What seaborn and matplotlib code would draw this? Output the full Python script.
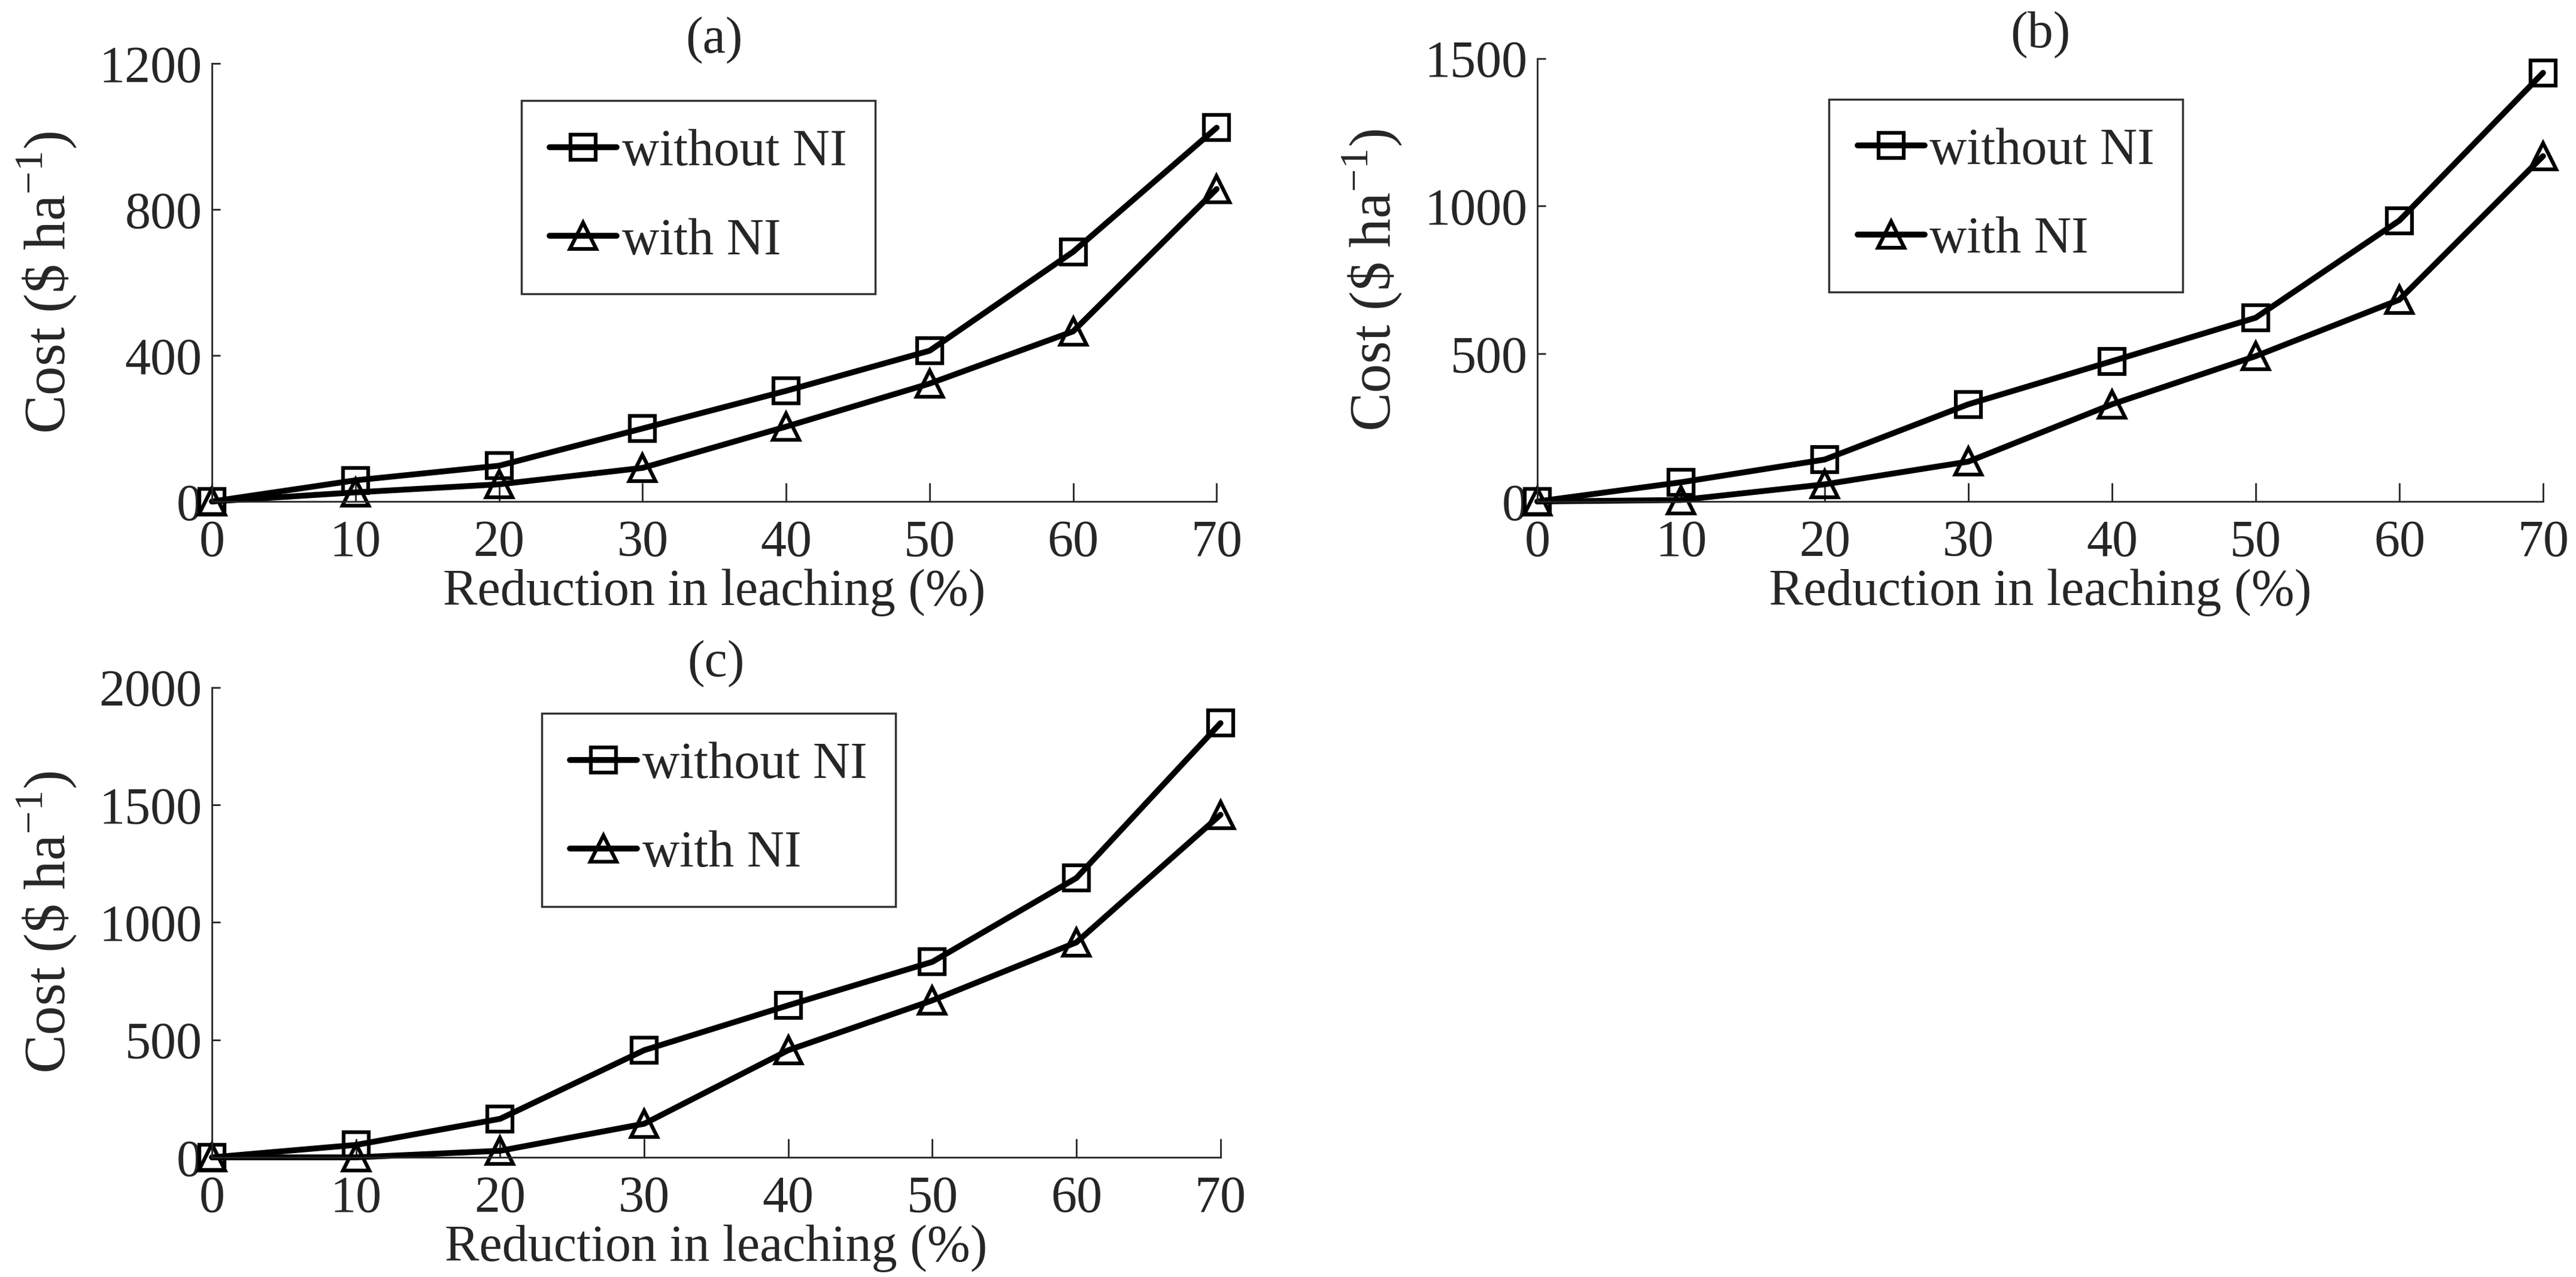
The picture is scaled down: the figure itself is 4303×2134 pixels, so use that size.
import numpy as np
import pandas as pd
import matplotlib
matplotlib.use('Agg')
from matplotlib import pyplot as plt
import seaborn as sns

sns.set_style('ticks')
plt.rcParams['font.family'] = ['Liberation Serif', 'DejaVu Serif']
plt.rcParams['mathtext.fontset'] = 'custom'
plt.rcParams['mathtext.rm'] = 'Liberation Serif'

reduction = [0, 10, 20, 30, 40, 50, 60, 70]

# panel (a)
a_without = [0, 58, 98, 200, 303, 413, 684, 1024]
a_with = [0, 25, 47, 92, 205, 323, 466, 856]
# panel (b)
b_without = [0, 65, 142, 329, 475, 622, 951, 1451]
b_with = [0, 5, 58, 135, 329, 492, 683, 1169]
# panel (c)
c_without = [0, 53, 164, 456, 647, 832, 1189, 1848]
c_with = [0, 0, 28, 143, 456, 668, 915, 1458]

panel_titles = ['(a)', '(b)', '(c)']
y_ticks = [[0, 400, 800, 1200], [0, 500, 1000, 1500], [0, 500, 1000, 1500, 2000]]
series = [(a_without, a_with), (b_without, b_with), (c_without, c_with)]

fig = plt.figure(figsize=(43.03, 21.34), dpi=100)
boxes = [[0.0823, 0.6073, 0.390, 0.343],
         [0.5968, 0.6073, 0.3904, 0.347],
         [0.0823, 0.0937, 0.3915, 0.368]]
leg_pos = [(0.308, 0.915), (0.290, 0.908), (0.327, 0.945)]

FS = 62
for i in range(3):
    ax = fig.add_axes(boxes[i])
    wo, wi = series[i]
    sns.lineplot(x=reduction, y=wo, ax=ax, color='black', lw=7, marker='s', ms=30,
                 mfc='none', mec='black', mew=4.5, label='without NI', clip_on=False)
    sns.lineplot(x=reduction, y=wi, ax=ax, color='black', lw=7, marker='^', ms=32,
                 mfc='none', mec='black', mew=4.5, label='with NI', clip_on=False)
    ax.set_xlim(0, 70)
    ax.set_ylim(0, y_ticks[i][-1])
    ax.set_xticks(reduction)
    ax.set_yticks(y_ticks[i])
    ax.tick_params(axis='x', direction='in', length=22, width=2, labelsize=FS, pad=22)
    ax.tick_params(axis='y', direction='in', length=10, width=2, labelsize=FS, pad=12)
    for s in ['top', 'right']:
        ax.spines[s].set_visible(False)
    for s in ['left', 'bottom']:
        ax.spines[s].set_linewidth(2)
    ax.set_xlabel('Reduction in leaching (%)', fontsize=FS, labelpad=2)
    ax.set_ylabel(r'Cost (\$ ha$^{\mathrm{-1}}$)', fontsize=70, labelpad=24)
    ax.set_title(panel_titles[i], fontsize=FS, pad=4)
    leg = ax.legend(loc='upper left', bbox_to_anchor=leg_pos[i], fontsize=FS,
                    frameon=True, fancybox=False, edgecolor='black', handlelength=1.3,
                    handletextpad=0.1, labelspacing=0.8, borderpad=0.55, borderaxespad=0)
    leg.get_frame().set_linewidth(2.5)

fig.savefig('out.png', dpi=100, facecolor='white')
